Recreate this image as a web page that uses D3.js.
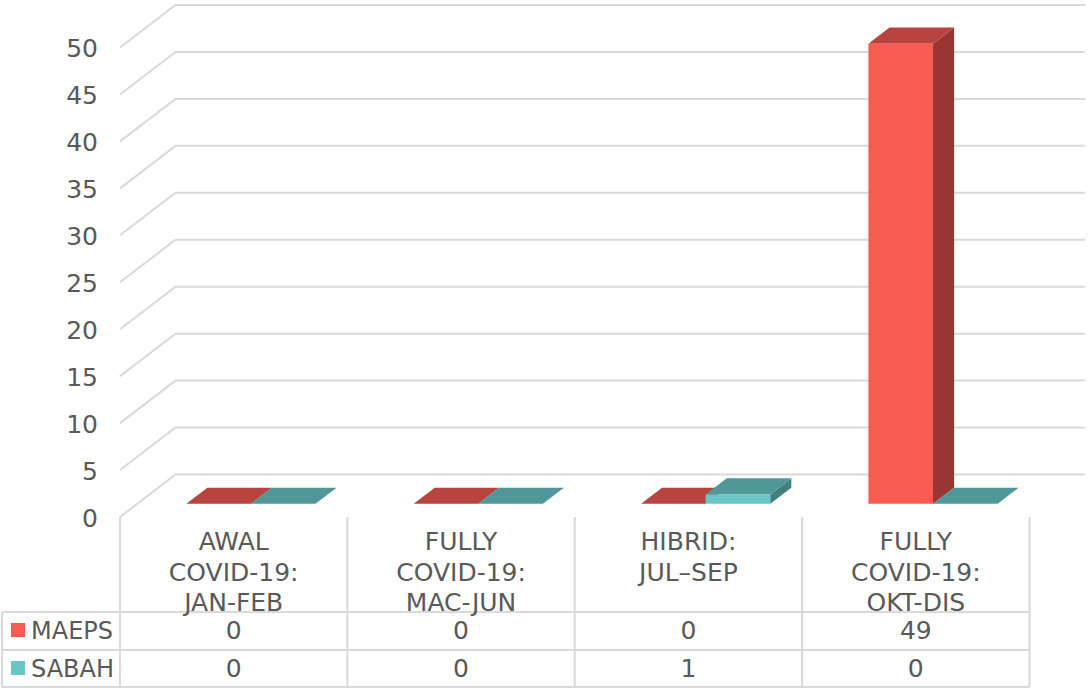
<!DOCTYPE html>
<html><head><meta charset="utf-8">
<script src="https://cdn.jsdelivr.net/npm/d3@7"></script>
<style>
html,body{margin:0;padding:0;background:#fff;}
svg{display:block;}
text{font-family:"DejaVu Sans",Verdana,sans-serif;fill:#595959;}
</style></head>
<body>
<svg id="chart" width="1089" height="688"></svg>
<script>
// ---- data ----
const categories = ["AWAL COVID-19: JAN-FEB", "FULLY COVID-19: MAC-JUN", "HIBRID: JUL–SEP", "FULLY COVID-19: OKT-DIS"];
const categoryLines = [["AWAL", "COVID-19:", "JAN-FEB"], ["FULLY", "COVID-19:", "MAC-JUN"], ["HIBRID:", "JUL–SEP"], ["FULLY", "COVID-19:", "OKT-DIS"]];
const seriesNames = ["MAEPS", "SABAH"];
const maepsValues = [0, 0, 0, 49];
const sabahValues = [0, 0, 1, 0];
const yTicks = [0, 5, 10, 15, 20, 25, 30, 35, 40, 45, 50];

// ---- styling / geometry ----
const colors = {
  MAEPS: {front: "#F85C50", top: "#B9433E", side: "#9A3632", legend: "#F85C50"},
  SABAH: {front: "#6AC7C9", top: "#4F9798", side: "#437F80", legend: "#6AC7C9"}
};
const gridColor = "#D9D9D9";
const DX = 55.5, DY = 42.5;   // depth offset
const f1 = 0.31, f2 = 0.69;   // bar depth positions
const FS = 25;

const svg = d3.select("#chart");
const x = d3.scaleBand().domain(d3.range(categories.length)).range([120, 1029.5]).padding(0);
const xs = d3.scaleBand().domain(seriesNames).range([0, x.bandwidth()]).paddingInner(0).paddingOuter(0.76);
const y = d3.scaleLinear().domain([0, 50]).range([517, 47.5]);

const P = (px, py, f) => [px + f * DX, py - f * DY];
const poly = pts => pts.map(p => p.join(",")).join(" ");

// gridlines (back wall + side diagonals)
const grid = svg.append("g");
yTicks.forEach(t => {
  const yf = y(t);
  const b = P(120, yf, 1);
  grid.append("polyline")
    .attr("points", poly([[120, yf], b, [1085, b[1]]]))
    .attr("fill", "none").attr("stroke", gridColor).attr("stroke-width", 2);
});

// y axis labels
const yAxis = d3.axisLeft(y).tickValues(yTicks).tickSize(0).tickPadding(0).tickFormat(d3.format("d"));
const ax = svg.append("g").attr("transform", "translate(98,0)").call(yAxis);
ax.select(".domain").remove();
ax.selectAll("text").attr("font-size", FS).attr("font-family", "DejaVu Sans, Verdana, sans-serif")
  .attr("fill", "#595959").attr("dy", "0.36em");

// bars
const seriesValues = {MAEPS: maepsValues, SABAH: sabahValues};
const bars = svg.append("g");
categories.forEach((c, i) => {
  seriesNames.forEach(s => {
    const v = seriesValues[s][i];
    const x0 = x(i) + xs(s), x1 = x0 + xs.bandwidth();
    const yb = y(0), yt = y(v);
    const col = colors[s];
    if (v > 0) {
      bars.append("polygon").attr("points", poly([P(x1, yt, f1), P(x1, yt, f2), P(x1, yb, f2), P(x1, yb, f1)]))
        .attr("fill", col.side);
    }
    bars.append("polygon").attr("points", poly([P(x0, yt, f1), P(x1, yt, f1), P(x1, yt, f2), P(x0, yt, f2)]))
      .attr("fill", col.top);
    if (v > 0) {
      bars.append("polygon").attr("points", poly([P(x0, yt, f1), P(x1, yt, f1), P(x1, yb, f1), P(x0, yb, f1)]))
        .attr("fill", col.front);
    }
  });
});

// data table
const tbl = svg.append("g");
const rowTop = 612, rowMid = 650, rowBot = 687;
const line = (x1_, y1_, x2_, y2_) => tbl.append("line").attr("x1", x1_).attr("y1", y1_).attr("x2", x2_).attr("y2", y2_)
  .attr("stroke", gridColor).attr("stroke-width", 2);
[rowTop, rowMid, rowBot].forEach(yy => line(2, yy, 1029.5, yy));
line(2, rowTop, 2, rowBot);
x.domain().forEach(i => line(x(i), 517, x(i), rowBot));
line(x.range()[1], 517, x.range()[1], rowBot);

// category labels
categories.forEach((c, i) => {
  const cx = x(i) + x.bandwidth() / 2;
  const t = tbl.append("text").attr("text-anchor", "middle").attr("font-size", FS);
  categoryLines[i].forEach((ln, k) => {
    t.append("tspan").attr("x", cx).attr("y", 550 + k * 30.5).text(ln);
  });
});

// rows
const rowBase = {MAEPS: 639, SABAH: 677};
seriesNames.forEach(s => {
  tbl.append("rect").attr("x", 11).attr("y", rowBase[s] - 16).attr("width", 14).attr("height", 14)
    .attr("fill", colors[s].legend);
  tbl.append("text").attr("x", 31).attr("y", rowBase[s]).attr("font-size", 24).text(s);
  seriesValues[s].forEach((v, i) => {
    tbl.append("text").attr("x", x(i) + x.bandwidth() / 2).attr("y", rowBase[s])
      .attr("text-anchor", "middle").attr("font-size", FS).text(v);
  });
});
</script>
</body></html>
